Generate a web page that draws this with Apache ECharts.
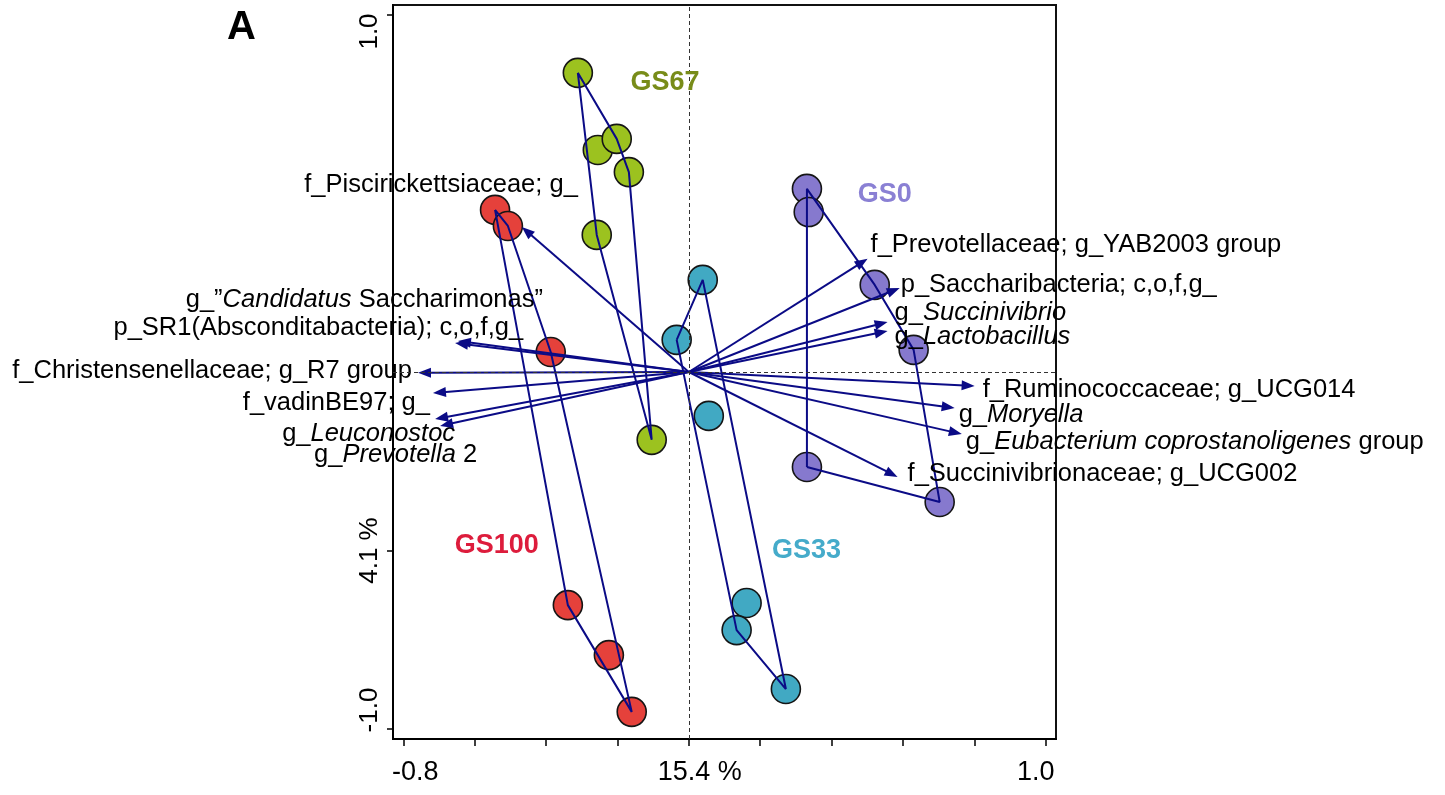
<!DOCTYPE html>
<html>
<head>
<meta charset="utf-8">
<script src="https://cdn.jsdelivr.net/npm/echarts@6/dist/echarts.min.js"></script>
<style>html,body{margin:0;padding:0;background:#fff}#c{width:1445px;height:795px}</style>
</head>
<body>
<div id="c"></div>
<script>
// ---------------- data ----------------
const groupNames = ['GS0', 'GS33', 'GS67', 'GS100'];
const gs0X = [0.331, 0.336, 0.521, 0.630, 0.331, 0.703];
const gs0Y = [0.513, 0.448, 0.244, 0.062, -0.266, -0.364];
const gs33X = [0.039, -0.034, 0.056, 0.162, 0.134, 0.272];
const gs33Y = [0.258, 0.090, -0.123, -0.647, -0.723, -0.888];
const gs67X = [-0.311, -0.255, -0.202, -0.168, -0.258, -0.104];
const gs67Y = [0.838, 0.622, 0.653, 0.560, 0.384, -0.190];
const gs100X = [-0.543, -0.507, -0.387, -0.339, -0.224, -0.160];
const gs100Y = [0.454, 0.409, 0.056, -0.653, -0.793, -0.952];

const taxaNames = [
  'f_Piscirickettsiaceae; g_',
  'g_\u201D*Candidatus* Saccharimonas\u201D',
  'p_SR1(Absconditabacteria); c,o,f,g_',
  'f_Christensenellaceae; g_R7 group',
  'f_vadinBE97; g_',
  'g_*Leuconostoc*',
  'g_*Prevotella* 2',
  'f_Prevotellaceae; g_YAB2003 group',
  'p_Saccharibacteria; c,o,f,g_',
  'g_*Succinivibrio*',
  'g_*Lactobacillus*',
  'f_Ruminococcaceae; g_UCG014',
  'g_*Moryella*',
  'g_*Eubacterium coprostanoligenes* group',
  'f_Succinivibrionaceae; g_UCG002'
];
const taxaX = [-0.468, -0.647, -0.655, -0.759, -0.717, -0.711, -0.697, 0.501, 0.591, 0.557, 0.557, 0.801, 0.745, 0.765, 0.585];
const taxaY = [0.406, 0.087, 0.081, -0.002, -0.059, -0.132, -0.151, 0.317, 0.235, 0.140, 0.115, -0.039, -0.101, -0.174, -0.294];

const xTickValues = [-0.8, -0.6, -0.4, -0.2, 0, 0.2, 0.4, 0.6, 0.8, 1.0];
const xLabelValues = [-0.8, 0, 1.0];
const xLabelTexts = ['-0.8', '15.4 %', '1.0'];
const yTickValues = [-1.0, -0.5, 1.0];
const yLabelValues = [-1.0, -0.5, 1.0];
const yLabelTexts = ['-1.0', '4.1 %', '1.0'];

// ---------------- layout / style (not data) ----------------
const FONT = '"Liberation Sans", Arial, sans-serif';
const fillColors = {GS0: '#8679CE', GS33: '#41A9C3', GS67: '#9CC21F', GS100: '#E5413B'};
const textColors = {GS0: '#8A80D4', GS33: '#45ABCA', GS67: '#788C19', GS100: '#DD1C3C'};
const groupLabelAnchor = {GS0: [0.549, 0.496], GS33: [0.330, -0.501], GS67: [-0.067, 0.812], GS100: [-0.538, -0.485]};
// pixel offsets of each taxon label from its arrow tip, and text alignment
const taxaLabelLayout = [
  [56, -42, 'right'], [85, -41, 'right'], [68, -15, 'right'], [-6, -2, 'right'], [-3, 10, 'right'],
  [20, 15, 'right'], [37, 29, 'right'],
  [3, -14, 'left'], [1, -3, 'left'], [7, -9, 'left'], [7, 6, 'left'], [8, 4, 'left'],
  [4, 7, 'left'], [4, 8, 'left'], [10, -3, 'left']
];
const NAVY = '#0B0B86';
const LABEL_SIZE = 25.5;

const groupData = {
  GS0: [gs0X, gs0Y], GS33: [gs33X, gs33Y], GS67: [gs67X, gs67Y], GS100: [gs100X, gs100Y]
};

function convexHull(xs, ys) {
  const p = xs.map((x, i) => [x, ys[i]]).sort((a, b) => a[0] - b[0] || a[1] - b[1]);
  const cross = (o, a, b) => (a[0] - o[0]) * (b[1] - o[1]) - (a[1] - o[1]) * (b[0] - o[0]);
  const lower = [];
  for (const q of p) { while (lower.length >= 2 && cross(lower[lower.length - 2], lower[lower.length - 1], q) <= 0) lower.pop(); lower.push(q); }
  const upper = [];
  for (const q of p.slice().reverse()) { while (upper.length >= 2 && cross(upper[upper.length - 2], upper[upper.length - 1], q) <= 0) upper.pop(); upper.push(q); }
  upper.pop(); lower.pop();
  const h = lower.concat(upper);
  return h.concat([h[0]]);
}

function toRich(s) { return s.replace(/\*(.+?)\*/g, '{i|$1}'); }

const series = [];

// dashed reference lines
series.push({
  type: 'scatter', data: [], z: 1, silent: true,
  markLine: {
    silent: true, symbol: 'none', label: {show: false}, animation: false,
    lineStyle: {type: [4, 3], color: '#333', width: 1},
    data: [{xAxis: 0}, {yAxis: 0}]
  }
});

groupNames.forEach(g => {
  const [xs, ys] = groupData[g];
  series.push({
    type: 'scatter', name: g, z: 2,
    data: xs.map((x, i) => [x, ys[i]]),
    symbolSize: 29,
    itemStyle: {color: fillColors[g], borderColor: '#151515', borderWidth: 1.6, opacity: 1}
  });
  series.push({
    type: 'line', z: 3, silent: true,
    data: convexHull(xs, ys),
    symbol: 'none',
    lineStyle: {color: NAVY, width: 2}
  });
});

// arrows with labels
series.push({
  type: 'custom', z: 4, silent: true,
  data: taxaX.map((x, i) => [x, taxaY[i], i]),
  renderItem: function (params, api) {
    const i = api.value(2);
    const o = api.coord([0, 0]);
    const t = api.coord([api.value(0), api.value(1)]);
    const dx = t[0] - o[0], dy = t[1] - o[1];
    const L = Math.hypot(dx, dy);
    const ux = dx / L, uy = dy / L;
    const hl = 13, hw = 5;
    const bx = t[0] - ux * hl, by = t[1] - uy * hl;
    const lay = taxaLabelLayout[i];
    return {
      type: 'group',
      children: [
        {type: 'line', shape: {x1: o[0], y1: o[1], x2: bx + ux * 3, y2: by + uy * 3},
         style: {stroke: NAVY, lineWidth: 2}},
        {type: 'polygon', shape: {points: [[t[0], t[1]], [bx - uy * hw, by + ux * hw], [bx + uy * hw, by - ux * hw]]},
         style: {fill: NAVY}},
        {type: 'text', x: t[0] + lay[0], y: t[1] + lay[1],
         style: {
           text: toRich(taxaNames[i]), fill: '#000', fontSize: LABEL_SIZE, fontFamily: FONT,
           align: lay[2], verticalAlign: 'middle',
           rich: {i: {fontStyle: 'italic', fontSize: LABEL_SIZE, fontFamily: FONT, fill: '#000'}}
         }}
      ]
    };
  }
});

// group labels
series.push({
  type: 'custom', z: 5, silent: true,
  data: groupNames.map((g, i) => [groupLabelAnchor[g][0], groupLabelAnchor[g][1], i]),
  renderItem: function (params, api) {
    const g = groupNames[api.value(2)];
    const p = api.coord([api.value(0), api.value(1)]);
    return {type: 'text', x: p[0], y: p[1],
      style: {text: g, fill: textColors[g], fontSize: 27, fontWeight: 'bold', fontFamily: FONT, align: 'center', verticalAlign: 'middle'}};
  }
});

const chart = echarts.init(document.getElementById('c'), null, {renderer: 'canvas'});
chart.setOption({
  animation: false,
  backgroundColor: '#fff',
  title: {text: 'A', left: 222, top: 3, textStyle: {fontSize: 40, fontWeight: 'bold', color: '#000', fontFamily: FONT}},
  grid: {left: 393, right: 389, top: 5, bottom: 56, show: true, borderColor: '#111', borderWidth: 2, outerBoundsMode: 'none'},
  xAxis: {
    type: 'value', min: -0.829, max: 1.029,
    axisLine: {show: true, onZero: false, lineStyle: {color: '#000', width: 2}},
    axisTick: {show: true, customValues: xTickValues, length: 7, lineStyle: {color: '#000', width: 1.5}},
    splitLine: {show: false},
    axisLabel: {
      customValues: xLabelValues, margin: 20, color: '#000', fontSize: 27, fontFamily: FONT,
      formatter: function (v) {
        const k = xLabelValues.findIndex(u => Math.abs(u - v) < 1e-9);
        const s = k >= 0 ? xLabelTexts[k] : '';
        return ['{a|', '{m|', '{b|'][k] + s + '}';
      },
      rich: {
        a: {padding: [0, 0, 0, 24], fontSize: 27, fontFamily: FONT, color: '#000'},
        m: {padding: [0, 0, 0, 22], fontSize: 27, fontFamily: FONT, color: '#000'},
        b: {padding: [0, 20, 0, 0], fontSize: 27, fontFamily: FONT, color: '#000'}
      }
    }
  },
  yAxis: {
    type: 'value', min: -1.028, max: 1.028,
    axisLine: {show: true, onZero: false, lineStyle: {color: '#000', width: 2}},
    axisTick: {show: true, customValues: yTickValues, length: 6, lineStyle: {color: '#000', width: 1.5}},
    splitLine: {show: false},
    axisLabel: {
      customValues: yLabelValues, rotate: 90, margin: 10, color: '#000', fontSize: 26, fontFamily: FONT,
      formatter: function (v) {
        const k = yLabelValues.findIndex(u => Math.abs(u - v) < 1e-9);
        const s = k >= 0 ? yLabelTexts[k] : '';
        return ['{lo|', '{md|', '{hi|'][k] + s + '}';
      },
      rich: {
        lo: {padding: [0, 0, 0, 38], fontSize: 26, fontFamily: FONT, color: '#000'},
        md: {fontSize: 26, fontFamily: FONT, color: '#000'},
        hi: {padding: [0, 33, 0, 0], fontSize: 26, fontFamily: FONT, color: '#000'}
      }
    }
  },
  series: series
});
</script>
</body>
</html>
